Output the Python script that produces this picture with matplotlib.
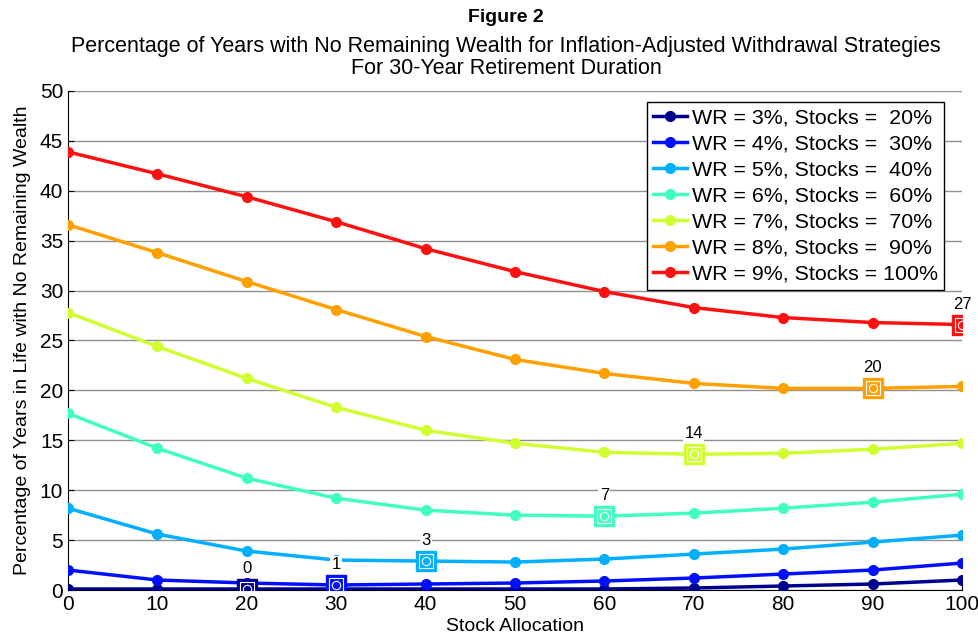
import numpy as np
import matplotlib.pyplot as plt

plt.rcParams['font.family'] = ['Liberation Sans', 'DejaVu Sans']

alloc = [0, 10, 20, 30, 40, 50, 60, 70, 80, 90, 100]

wr3 = [0.1, 0.1, 0.1, 0.1, 0.1, 0.1, 0.1, 0.2, 0.4, 0.6, 1.0]
wr4 = [2.0, 1.0, 0.7, 0.5, 0.6, 0.7, 0.9, 1.2, 1.6, 2.0, 2.7]
wr5 = [8.2, 5.6, 3.9, 3.0, 2.9, 2.8, 3.1, 3.6, 4.1, 4.8, 5.5]
wr6 = [17.7, 14.2, 11.2, 9.2, 8.0, 7.5, 7.4, 7.7, 8.2, 8.8, 9.6]
wr7 = [27.8, 24.4, 21.2, 18.3, 16.0, 14.7, 13.8, 13.6, 13.7, 14.1, 14.7]
wr8 = [36.6, 33.8, 30.9, 28.1, 25.4, 23.1, 21.7, 20.7, 20.2, 20.2, 20.4]
wr9 = [43.9, 41.7, 39.4, 36.9, 34.2, 31.9, 29.9, 28.3, 27.3, 26.8, 26.6]

series = [wr3, wr4, wr5, wr6, wr7, wr8, wr9]
labels = ['WR = 3%, Stocks =  20%', 'WR = 4%, Stocks =  30%',
          'WR = 5%, Stocks =  40%', 'WR = 6%, Stocks =  60%',
          'WR = 7%, Stocks =  70%', 'WR = 8%, Stocks =  90%',
          'WR = 9%, Stocks = 100%']
colors = ['#00008F', '#0010FF', '#00AFFF', '#40FFBF', '#CFFF30', '#FF9F00', '#FF1010']

# best allocation per strategy and its rounded value
best_alloc = [20, 30, 40, 60, 70, 90, 100]
best_text = ['0', '1', '3', '7', '14', '20', '27']

fig = plt.figure(figsize=(9.79, 6.38), dpi=100)
ax = fig.add_axes([68 / 979, 1 - 590 / 638, 894 / 979, 499 / 638])

for i in range(len(series)):
    ax.plot(alloc, series[i], color=colors[i], lw=2.5, marker='o', ms=7,
            label=labels[i], zorder=3)

for i in range(len(series)):
    k = alloc.index(best_alloc[i])
    x, y = alloc[k], series[i][k]
    ax.plot(x, y, marker='s', ms=14, color=colors[i], mec=colors[i], zorder=4)
    ax.plot(x, y, marker='s', ms=10, mfc='none', mec='white', mew=0.8, zorder=5)
    ax.plot(x, y, marker='o', ms=6, color=colors[i], mec='white', mew=0.8, zorder=5)
    ax.text(x, y + 1.3, best_text[i], ha='center', va='bottom', fontsize=12,
            bbox=dict(facecolor='white', edgecolor='none', pad=1), zorder=6)

ax.set_xlim(0, 100)
ax.set_ylim(0, 50)
ax.set_xticks(alloc)
ax.set_yticks(np.arange(0, 51, 5))
ax.tick_params(labelsize=15, direction='in', length=4)
ax.grid(axis='y', color='#909090', lw=1)
ax.set_axisbelow(True)
ax.spines['top'].set_visible(False)
ax.spines['right'].set_visible(False)

ax.set_xlabel('Stock Allocation', fontsize=14, labelpad=3)
ax.set_ylabel('Percentage of Years in Life with No Remaining Wealth', fontsize=14, labelpad=6)

fig.text(0.517, 0.986, 'Figure 2', ha='center', va='top', fontsize=14, fontweight='bold')
fig.text(0.517, 0.944, 'Percentage of Years with No Remaining Wealth for Inflation-Adjusted Withdrawal Strategies\nFor 30-Year Retirement Duration',
         ha='center', va='top', fontsize=15.5, linespacing=1.1)

leg = ax.legend(loc='upper right', bbox_to_anchor=(0.98, 0.978), fontsize=15.4,
                fancybox=False, framealpha=1, edgecolor='black',
                handlelength=1.6, handletextpad=0.2, borderpad=0.3,
                labelspacing=0.33, borderaxespad=0)
leg.get_frame().set_linewidth(1)

fig.savefig('out.png', dpi=100)
